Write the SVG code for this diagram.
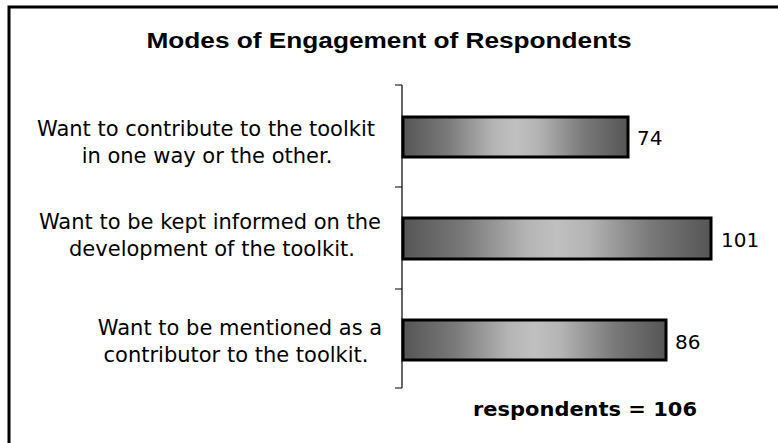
<svg xmlns="http://www.w3.org/2000/svg" width="778" height="443" viewBox="0 0 778 443">
<defs>
<linearGradient id="g" x1="0" y1="0" x2="1" y2="0">
<stop offset="0" stop-color="#555555"/>
<stop offset="0.2" stop-color="#7a7a7a"/>
<stop offset="0.4" stop-color="#b4b4b4"/>
<stop offset="0.5" stop-color="#c0c0c0"/>
<stop offset="0.6" stop-color="#b4b4b4"/>
<stop offset="0.8" stop-color="#7a7a7a"/>
<stop offset="1" stop-color="#555555"/>
</linearGradient>
<style>
.lbl{font-family:"DejaVu Sans",Verdana,sans-serif;font-size:21px;fill:#000;text-anchor:middle}
.val{font-family:"DejaVu Sans",Verdana,sans-serif;font-size:20px;fill:#000}
.bar{fill:url(#g);stroke:#000;stroke-width:3}
.ax{stroke:#000;stroke-width:1.2;fill:none}
</style>
</defs>
<rect x="0" y="0" width="778" height="443" fill="#fff"/>
<rect x="9" y="7" width="780" height="450" fill="none" stroke="#000" stroke-width="3"/>
<text x="389" y="48" font-family="Liberation Sans,Arial,sans-serif" font-weight="bold" font-size="22" text-anchor="middle" textLength="485" lengthAdjust="spacingAndGlyphs">Modes of Engagement of Respondents</text>
<g id="axis">
<path class="ax" d="M402,85 V388 M395,85 H402 M395,187 H402 M395,289 H402 M395,388 H402"/>
</g>
<g id="bar1">
<rect class="bar" x="403" y="117" width="225" height="40"/>
<text class="val" x="637" y="145">74</text>
<text class="lbl" x="206" y="136">Want to contribute to the toolkit</text>
<text class="lbl" x="207" y="163">in one way or the other.</text>
</g>
<g id="bar2">
<rect class="bar" x="403" y="218" width="308" height="41"/>
<text class="val" x="721" y="247">101</text>
<text class="lbl" x="210" y="229">Want to be kept informed on the</text>
<text class="lbl" x="212" y="256">development of the toolkit.</text>
</g>
<g id="bar3">
<rect class="bar" x="403" y="320" width="263" height="40"/>
<text class="val" x="675" y="349">86</text>
<text class="lbl" x="240" y="335">Want to be mentioned as a</text>
<text class="lbl" x="236" y="362">contributor to the toolkit.</text>
</g>
<text x="585" y="416" font-family="DejaVu Sans,Verdana,sans-serif" font-weight="bold" font-size="19" text-anchor="middle" textLength="224" lengthAdjust="spacingAndGlyphs">respondents = 106</text>
</svg>
